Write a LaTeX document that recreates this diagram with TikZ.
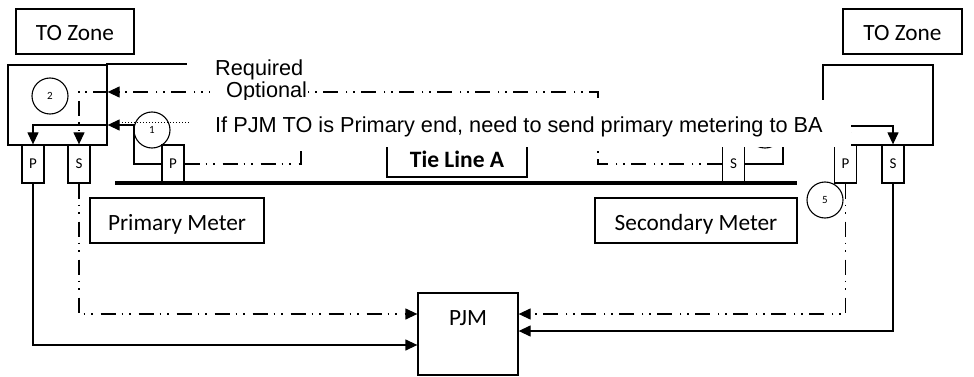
\documentclass[tikz,border=0pt]{standalone}
\usepackage{fontspec}
\setmainfont{Carlito}
\newfontfamily\legendfont{Liberation Sans}
\usetikzlibrary{arrows.meta}

\begin{document}
\begin{tikzpicture}[x=1pt, y=-1pt,
	box/.style={draw, line width=1.3pt, inner sep=0pt, minimum height=45pt, text height=19pt, text depth=0pt, font=\fontsize{23.3}{28}\selectfont},
	meter/.style={draw, line width=1.3pt, inner sep=0pt, minimum width=22pt, minimum height=38pt, text height=8pt, text depth=0pt, font=\fontsize{15}{16}\selectfont},
	num/.style={draw, circle, line width=1.1pt, inner sep=0pt, minimum size=36pt, font=\fontsize{11}{12}\selectfont},
	req/.style={line width=1.3pt},
	opt/.style={line width=1.3pt, dash pattern=on 15pt off 6pt on 1.5pt off 6pt on 1.5pt off 8pt},
	arr/.style={-{Triangle[length=12pt,width=11pt]}},
	legend/.style={inner sep=0pt, font=\legendfont\fontsize{21.7}{26}\selectfont}]
	\useasboundingbox (0,0) rectangle (974,377);
	
	%TO zónák
	\node[box, minimum width=118pt] (toL) at (75,31.5) {TO Zone};
	\node[box, minimum width=119pt] (toR) at (902.5,31.5) {TO Zone};
	\node[draw, line width=1.3pt, minimum width=99pt, minimum height=80pt] (zoneL) at (57.5,105) {};
	\node[draw, line width=1.3pt, minimum width=110pt, minimum height=80pt] (zoneR) at (878,105) {};
	
	%mérők
	\node[meter] (mPL) at (33,164) {P};
	\node[meter] (mSL) at (79,164) {S};
	\node[meter] (mPR) at (845.5,164) {P};
	\node[meter] (mSR) at (893,164) {S};
	\node[meter] (tP) at (173,164) {P};
	\node[meter] (tS) at (733.5,164) {S};
	
	%körök
	\node[num] (c2) at (50,96) {2};
	\node[num] (c1) at (152,130) {1};
	\node[num] (c3) at (765,130) {};
	\node[num] (c5) at (825,200) {5};
	
	%távvezeték
	\coordinate (tieW) at (115,183);
	\coordinate (tieE) at (797,183);
	\draw[line width=4.5pt] (tieW) -- (tieE);
	\node[box, minimum width=140pt, minimum height=39pt, font=\fontsize{23.5}{28}\selectfont\bfseries] (tieA) at (457,157.5) {Tie Line A};
	\node[box, minimum width=174pt] (primM) at (177,220.5) {Primary Meter};
	\node[box, minimum width=202pt] (secM) at (696,220.5) {Secondary Meter};
	\node[box, minimum width=100pt, minimum height=0pt, text height=32pt, text depth=50pt] (pjm) at (468,334) {PJM};
	
	%vonalak
	\coordinate (k1) at (134,125);
	\coordinate (k2) at (598,92);
	\coordinate (k3) at (301,112);
	\coordinate (k4) at (783,126);
	\draw[req, arr] (tP.west) -| (k1) -- (k1 -| zoneL.east);
	\draw[req, arr] (k1 -| zoneL.east) -| (mPL.north);
	\draw[opt, arr] (tS.west) -| (k2) -- (k2 -| zoneL.east);
	\draw[opt, arr] (k2 -| zoneL.east) -| (mSL.north);
	\draw[opt, arr] (tP.east) -| (k3) -| (mPR.north);
	\draw[req, arr] (tS.east) -| (k4) -- (k4 -| zoneR.west);
	\draw[req, arr] (k4 -| zoneR.west) -| (mSR.north);
	
	\draw[req, arr] (mPL.south) |- ([yshift=-11pt]pjm.west);
	\draw[opt, arr] (mSL.south) |- ([yshift=20pt]pjm.west);
	\draw[opt, arr] (mPR.south) |- ([yshift=20pt]pjm.east);
	\draw[req, arr] (mSR.south) |- ([yshift=3pt]pjm.east);
	
	%jelmagyarázat
	\draw[req] (106,64) -- (187,64);
	\node[legend, anchor=base west] (lreq) at (215,76) {Required};
	\node[legend, anchor=west, fill=white, minimum height=18pt] (lopt) at (210,92) {\hspace{16pt}Optional\hspace{26pt}};
	\fill[white] (190,100) rectangle (851,146.5);
	\draw[dotted, line width=1pt] (122,123) -- (190,123);
	\node[legend, anchor=base west] (lif) at (215,132) {If PJM TO is Primary end, need to send primary metering to BA};
	
\end{tikzpicture}
\end{document}
